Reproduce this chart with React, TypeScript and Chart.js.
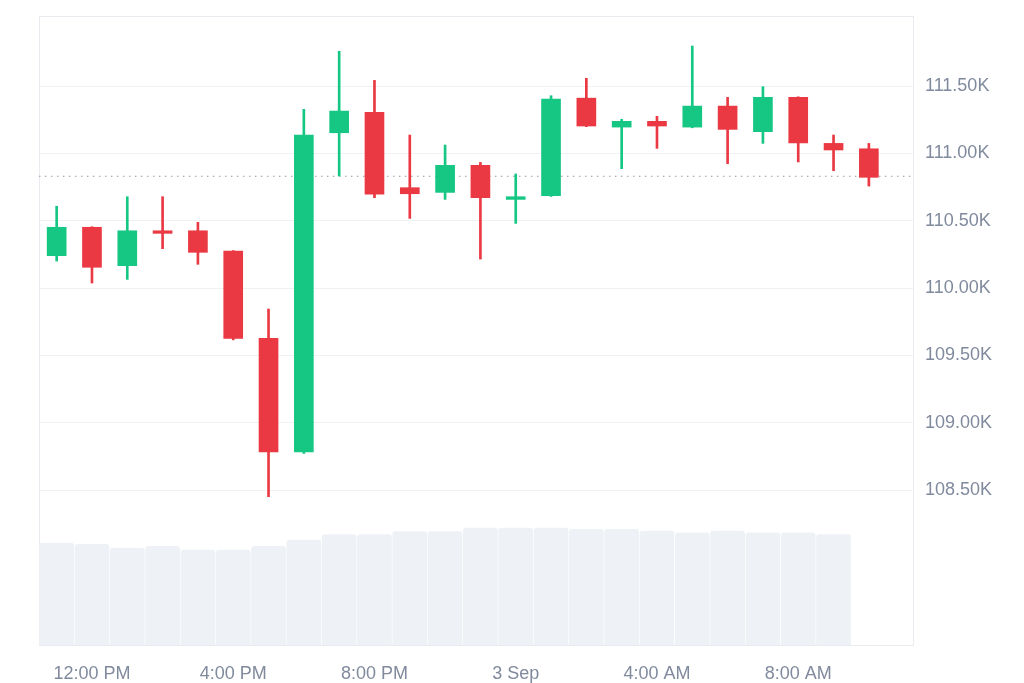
import React, { useEffect, useRef } from 'react';
import { Chart, registerables } from 'chart.js';

Chart.register(...registerables);

// Hourly candles, 2 Sep 11:00 AM -> 3 Sep 10:00 AM
const opens = [110240, 110451, 110166, 110425, 110425, 110275, 109626, 108782, 111153, 111305, 110745, 110710, 110911, 110658, 110685, 111410, 111195, 111238, 111195, 111351, 111161, 111416, 111074, 111034];
const highs = [110607, 110455, 110678, 110678, 110488, 110278, 109844, 111327, 111758, 111542, 111136, 111062, 110933, 110847, 111428, 111557, 111253, 111275, 111797, 111416, 111495, 111420, 111136, 111074];
const lows = [110200, 110037, 110064, 110292, 110176, 109615, 108450, 108772, 110832, 110671, 110517, 110658, 110215, 110480, 110680, 111198, 110886, 111037, 111190, 110923, 111074, 110936, 110871, 110757];
const closes = [110451, 110154, 110425, 110406, 110265, 109626, 108782, 111136, 111314, 110696, 110700, 110911, 110671, 110678, 111403, 111203, 111238, 111203, 111351, 111178, 111416, 111077, 111025, 110822];
// Volume (billions), one per candle except the last
const volumes = [32.4, 32.0, 30.8, 31.4, 30.2, 30.2, 31.4, 33.4, 35.1, 35.1, 36.1, 36.1, 37.2, 37.2, 37.2, 36.8, 36.8, 36.2, 35.7, 36.2, 35.7, 35.7, 35.1];

const timeTickIndex = [1, 5, 9, 13, 17, 21];
const timeLabels = ['12:00 PM', '4:00 PM', '8:00 PM', '3 Sep', '4:00 AM', '8:00 AM'];
const priceTicks = [108500, 109000, 109500, 110000, 110500, 111000, 111500];
const priceMin = 107349;
const priceMax = 112020;
const volumeMax = 200;
const lastPrice = 110830;

const GREEN = '#16c784';
const RED = '#ea3943';
const LABEL = '#808a9d';
const FONT = { family: '"Liberation Sans", Arial, sans-serif', size: 18 };

export default function App() {
  const ref = useRef<HTMLCanvasElement>(null);

  useEffect(() => {
    if (!ref.current) return;
    const colors = opens.map((o, i) => (closes[i] >= o ? GREEN : RED));

    const framePlugin = {
      id: 'frame',
      beforeDatasetsDraw(chart: any) {
        const { ctx, chartArea } = chart;
        ctx.save();
        ctx.strokeStyle = '#e8ebef';
        ctx.lineWidth = 1;
        ctx.strokeRect(chartArea.left + 0.5, chartArea.top + 0.5, chartArea.right - chartArea.left, chartArea.bottom - chartArea.top);
        const y = chart.scales.y.getPixelForValue(lastPrice);
        ctx.strokeStyle = '#8f98a8';
        ctx.lineWidth = 1.2;
        ctx.setLineDash([1.5, 4.5]);
        ctx.beginPath();
        ctx.moveTo(chartArea.left, y);
        ctx.lineTo(chartArea.right, y);
        ctx.stroke();
        ctx.restore();
      },
    };

    const noPad = (s: any) => {
      s.paddingTop = 0;
      s.paddingBottom = 0;
      s.paddingLeft = 0;
      s.paddingRight = 0;
    };

    const chart = new Chart(ref.current, {
      type: 'bar',
      data: {
        datasets: [
          {
            label: 'Body',
            data: opens.map((o, i) => ({ x: i, y: [o, closes[i]] })) as any,
            backgroundColor: colors,
            barThickness: 19,
            grouped: false,
            borderSkipped: false,
            order: 1,
          },
          {
            label: 'Wick',
            data: lows.map((l, i) => ({ x: i, y: [l, highs[i]] })) as any,
            backgroundColor: colors,
            barThickness: 2,
            grouped: false,
            borderSkipped: false,
            order: 2,
          },
          {
            label: 'Volume',
            data: volumes.map((v, i) => ({ x: i, y: v })) as any,
            backgroundColor: '#eef1f5',
            barThickness: 34,
            borderRadius: 3,
            grouped: false,
            yAxisID: 'yVol',
            order: 3,
          },
        ],
      },
      options: {
        animation: false,
        responsive: false,
        devicePixelRatio: 1,
        layout: { padding: { left: 39, top: 16, right: 0, bottom: 0 } },
        plugins: { legend: { display: false }, tooltip: { enabled: false } },
        scales: {
          x: {
            type: 'linear',
            offset: false,
            min: -0.5,
            max: 24.25,
            grid: { display: false, offset: false },
            border: { display: false },
            afterBuildTicks: (s: any) => {
              s.ticks = timeTickIndex.map((v) => ({ value: v }));
            },
            afterFit: (s: any) => {
              s.height = 38;
              noPad(s);
            },
            ticks: {
              autoSkip: false,
              maxRotation: 0,
              padding: 10,
              color: LABEL,
              font: FONT,
              callback: (_v: any, i: number) => timeLabels[i] ?? '',
            },
          },
          y: {
            type: 'linear',
            position: 'right',
            min: priceMin,
            max: priceMax,
            grid: { color: '#eff2f5', drawTicks: false },
            border: { display: false },
            afterBuildTicks: (s: any) => {
              s.ticks = priceTicks.map((v) => ({ value: v }));
            },
            afterFit: (s: any) => {
              s.width = 111;
              noPad(s);
            },
            ticks: {
              padding: 12,
              color: LABEL,
              font: FONT,
              callback: (v: any) => (Number(v) / 1000).toFixed(2) + 'K',
            },
          },
          yVol: {
            type: 'linear',
            axis: 'y',
            display: false,
            min: 0,
            max: volumeMax,
          },
        },
      } as any,
      plugins: [framePlugin],
    });
    return () => chart.destroy();
  }, []);

  return (
    <div style={{ position: 'fixed', left: 0, top: 0, width: 1024, height: 683, background: '#fff' }}>
      <canvas ref={ref} width={1024} height={683} style={{ display: 'block' }} />
    </div>
  );
}
